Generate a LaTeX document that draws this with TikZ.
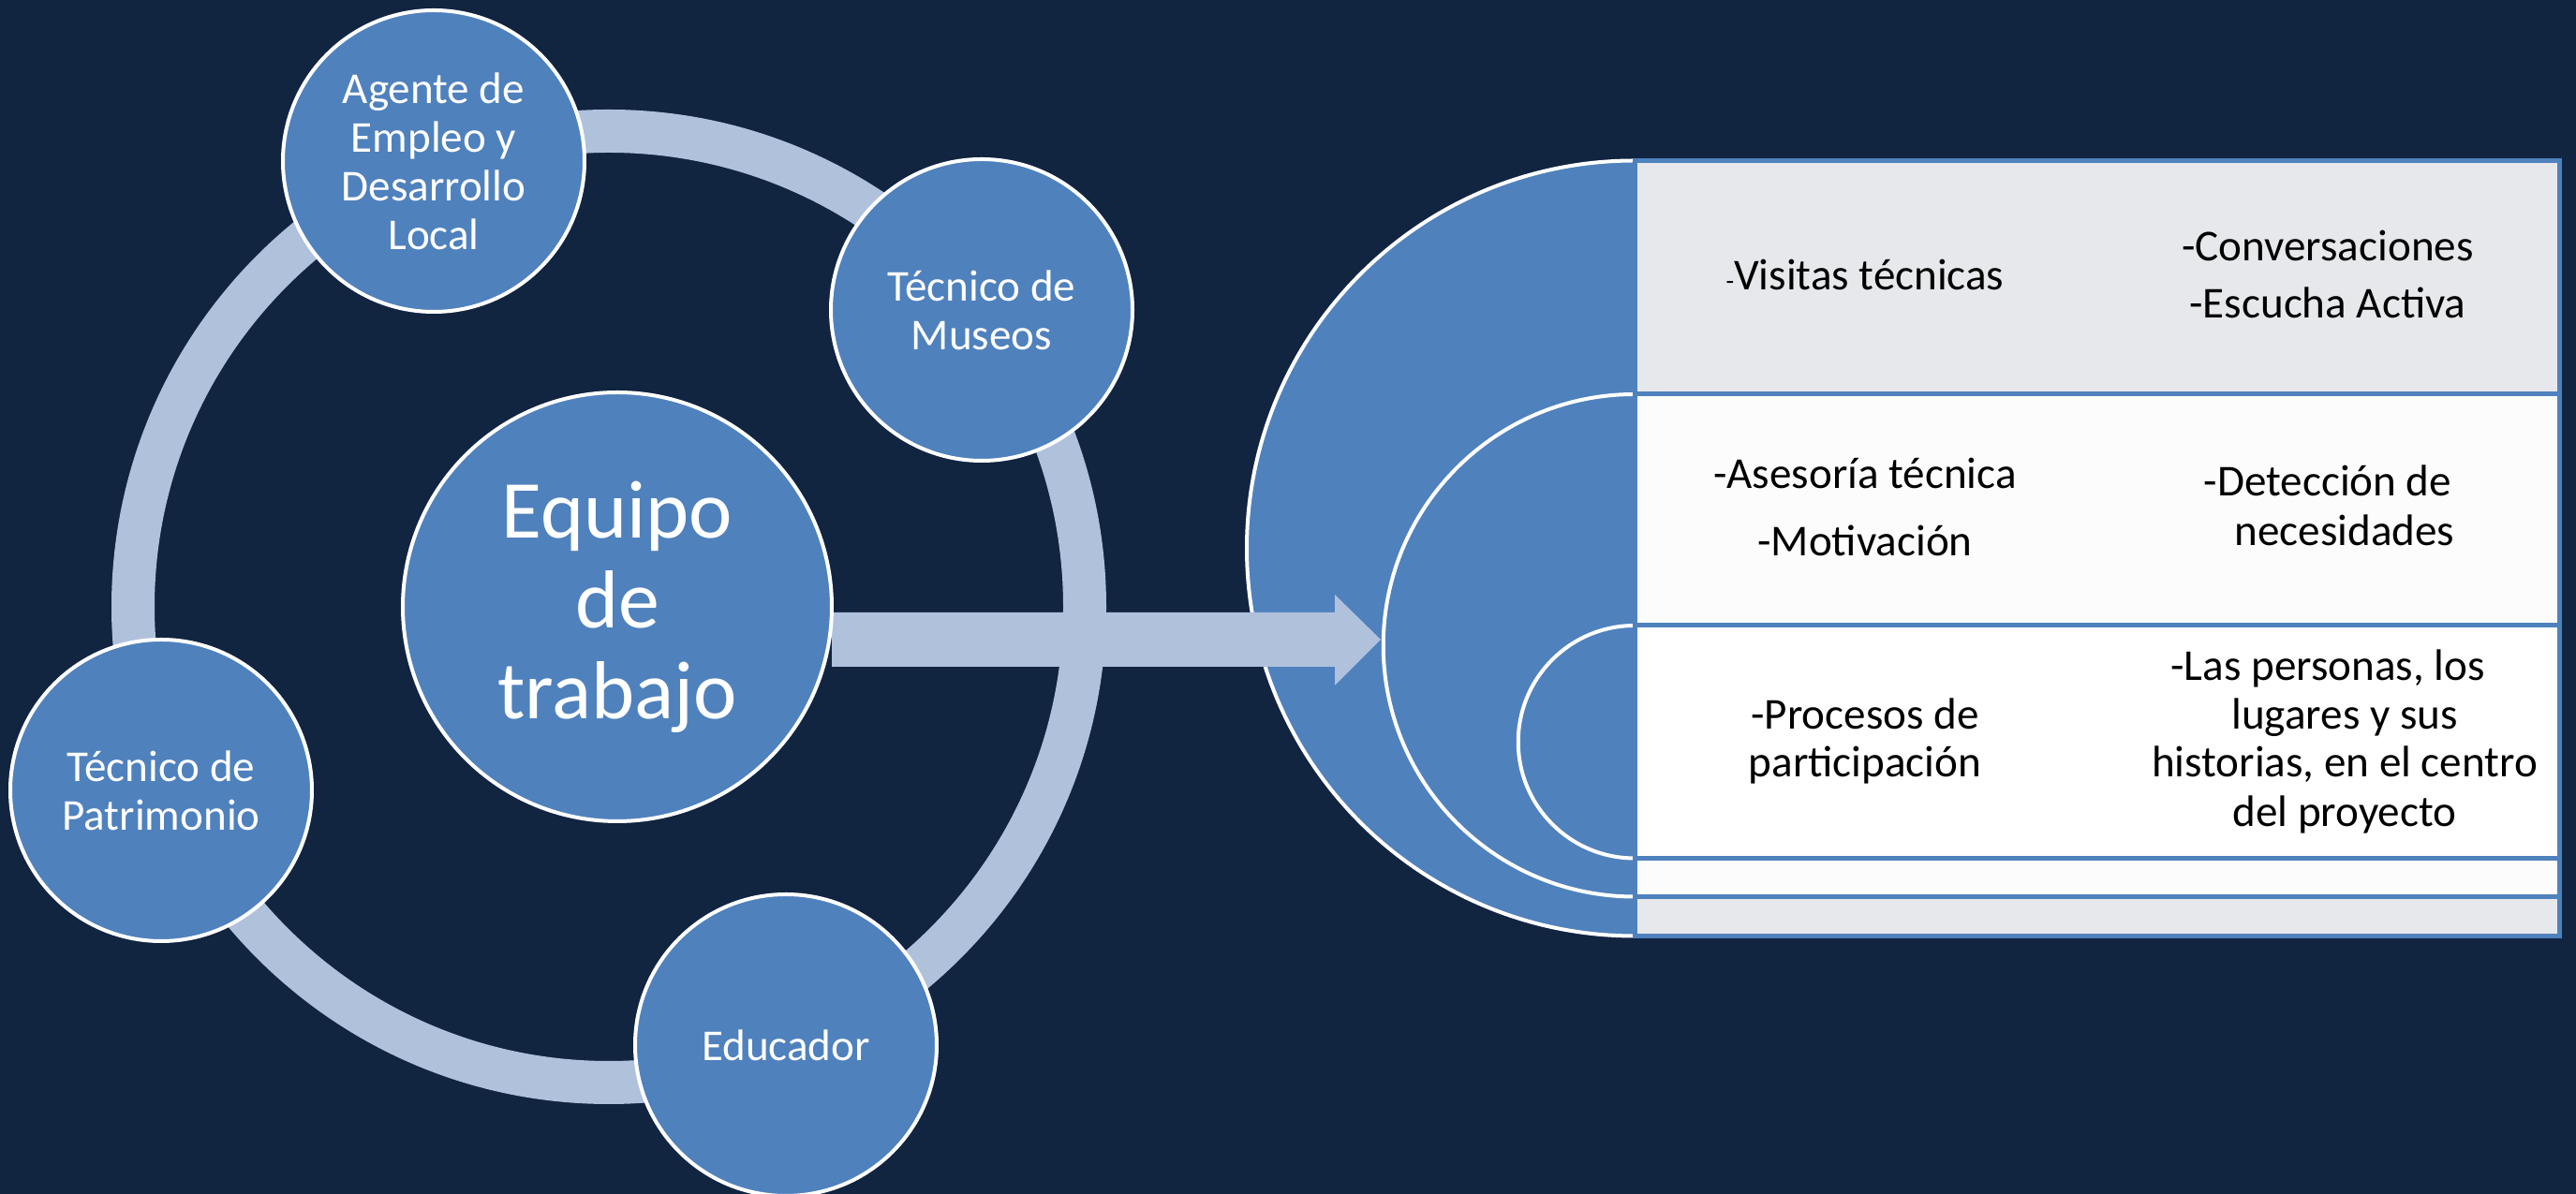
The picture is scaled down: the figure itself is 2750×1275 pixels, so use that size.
\documentclass[tikz,border=0pt]{standalone}
\usepackage{fontspec}
\setmainfont{Carlito}
\definecolor{bgnavy}{RGB}{17,36,64}
\definecolor{ringblue}{RGB}{176,193,220}
\definecolor{midblue}{RGB}{79,129,189}
\definecolor{rowgray}{RGB}{231,232,236}
\definecolor{rowwhite}{RGB}{252,252,252}
\begin{document}
\begin{tikzpicture}[x=0.1mm,y=0.1mm,
  member/.style={circle, fill=midblue, draw=white, line width=0.4mm, minimum size=32.2mm,
    inner sep=0pt, text=white, align=center, font=\fontsize{13.4}{14.8}\selectfont},
  hub/.style={member, minimum size=45.8mm, font=\fontsize{25}{27.5}\selectfont},
  celltext/.style={anchor=base, inner sep=0pt, text=black, font=\fontsize{13.4}{14.8}\selectfont},
  levelbox/.style={draw=midblue, line width=0.5mm},
  halo/.style={fill=midblue},
  haloedge/.style={draw=white, line width=0.4mm},
  cyclering/.style={draw=ringblue, line width=4.6mm},
  blockarrow/.style={fill=ringblue}]
% background
\fill[bgnavy] (0,0) rectangle (2750,1275);
\useasboundingbox (0,0) rectangle (2750,1275);
% cycle ring
\coordinate (ringc) at (650,627);
\draw[cyclering] (ringc) circle[radius=508];
% target semicircles
\fill[halo] (1745,1103.5) arc[start angle=90, end angle=270, radius=414] -- cycle;
\draw[haloedge] (1745,1103.5) arc[start angle=90, end angle=270, radius=414];
\fill[halo] (1745,854) arc[start angle=90, end angle=270, radius=268.25] -- cycle;
\draw[haloedge] (1745,854) arc[start angle=90, end angle=270, radius=268.25];
\fill[halo] (1745,607) arc[start angle=90, end angle=270, radius=124.25] -- cycle;
\draw[haloedge] (1745,607) arc[start angle=90, end angle=270, radius=124.25];
% table levels
\draw[levelbox, fill=rowgray] (1745,1103.5) rectangle (2732.5,275.5);
\draw[levelbox, fill=rowwhite] (1745,854) rectangle (2732.5,317.5);
\draw[levelbox, fill=white] (1745,607) rectangle (2732.5,358.5);
% block arrow
\coordinate (arrowtail) at (888,592);
\coordinate (arrowtip) at (1474,592);
\fill[blockarrow] ([yshift=2.9mm]arrowtail) -- (1425,621) -- (1425,640) -- (arrowtip)
  -- (1425,543) -- (1425,563) -- ([yshift=-2.9mm]arrowtail) -- cycle;
% circles
\node[hub] (equipo) at (659,627) {Equipo\\de\\trabajo};
\node[member] (agente) at (463,1103) {Agente de\\Empleo y\\Desarrollo\\Local};
\node[member] (museos) at (1048,944) {Técnico de\\Museos};
\node[member] (patrimonio) at (172,431) {Técnico de\\Patrimonio};
\node[member] (educador) at (839,159) {Educador};
% table texts
\node[celltext] (visitas) at (1991,965) {{\fontsize{8}{8}\selectfont -}Visitas técnicas};
\node[celltext] (conversa) at (2485,996) {-Conversaciones};
\node[celltext] (escucha) at (2485,935) {-Escucha Activa};
\node[celltext] (asesoria) at (1991,753) {-Asesoría técnica};
\node[celltext] (motiva) at (1991,681) {-Motivación};
\node[celltext] (deteccion) at (2485,745) {-Detección de};
\node[celltext] (necesid) at (2503,692) {necesidades};
\node[celltext] (procesos) at (1991,496) {-Procesos de};
\node[celltext] (particip) at (1991,445) {participación};
\node[celltext] (personas) at (2485,548) {-Las personas, los};
\node[celltext] (lugares) at (2503,496) {lugares y sus};
\node[celltext] (historias) at (2503,445) {historias, en el centro};
\node[celltext] (proyecto) at (2503,392) {del proyecto};
\end{tikzpicture}
\end{document}
